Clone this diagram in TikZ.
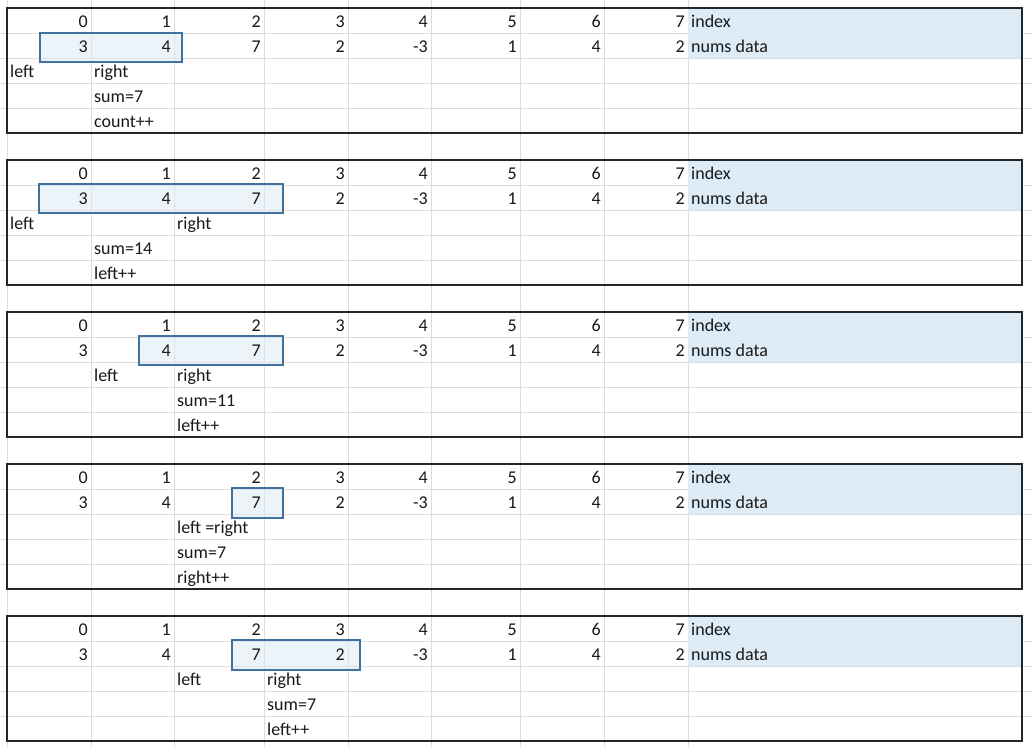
\documentclass[tikz,border=0pt]{standalone}
\usepackage{fontspec}
\setmainfont{Carlito}
\definecolor{gridgray}{HTML}{DCDCDC}
\definecolor{headblue}{HTML}{DDEBF7}
\definecolor{selblue}{HTML}{41719C}
\definecolor{selfill}{HTML}{DDEBF7}
\definecolor{boxdark}{HTML}{262626}

\begin{document}
\begin{tikzpicture}[x=1pt, y=-1pt,
    cell/.style={inner sep=0pt, text=black!90, font=\fontsize{18}{20}\selectfont},
    num/.style={cell, anchor=base east},
    txt/.style={cell, anchor=base west},
    gridline/.style={gridgray, line width=0.9pt},
    framebox/.style={boxdark, line width=2pt},
    selbox/.style={selblue, line width=1.3pt, fill=selfill, fill opacity=0.55}]

    \useasboundingbox (0,0) rectangle (1032,747);
    \fill[white] (0,0) rectangle (1032,747);

    % Grid
    \foreach \x in {7,91,174,264,348,431,520,604,688}
        \draw[gridline] (\x,0) -- (\x,747);
    \foreach \t in {8,160,312,464,616}
        \foreach \r in {25,50,75,100}
            \draw[gridline] (0,\t+\r) -- (1032,\t+\r);

    % Block 1
    \begin{scope}[shift={(0,8)}]
        \draw[selbox] (40,25) rectangle (182,54);
        \node[txt] (b1left) at (10,69) {left};
        \node[txt] (b1right) at (94,69) {right};
        \node[txt] (b1sum) at (94,94) {sum=7};
        \node[txt] (b1step) at (94,119) {count++};
    \end{scope}

    % Block 2
    \begin{scope}[shift={(0,160)}]
        \draw[selbox] (39,24) rectangle (283,53);
        \node[txt] (b2left) at (10,69) {left};
        \node[txt] (b2right) at (177,69) {right};
        \node[txt] (b2sum) at (94,94) {sum=14};
        \node[txt] (b2step) at (94,119) {left++};
    \end{scope}

    % Block 3
    \begin{scope}[shift={(0,312)}]
        \draw[selbox] (139,24) rectangle (283,53);
        \node[txt] (b3left) at (94,69) {left};
        \node[txt] (b3right) at (177,69) {right};
        \node[txt] (b3sum) at (177,94) {sum=11};
        \node[txt] (b3step) at (177,119) {left++};
    \end{scope}

    % Block 4
    \begin{scope}[shift={(0,464)}]
        \draw[selbox] (232,24) rectangle (283,54);
        \node[txt] (b4left) at (177,69) {left =right};
        \node[txt] (b4sum) at (177,94) {sum=7};
        \node[txt] (b4step) at (177,119) {right++};
    \end{scope}

    % Block 5
    \begin{scope}[shift={(0,616)}]
        \draw[selbox] (232,24) rectangle (360,54);
        \node[txt] (b5left) at (177,69) {left};
        \node[txt] (b5right) at (267,69) {right};
        \node[txt] (b5sum) at (267,94) {sum=7};
        \node[txt] (b5step) at (267,119) {left++};
    \end{scope}

    % Index and data rows, frames
    \foreach \b [count=\k from 0] in {1,...,5} {
        \begin{scope}[shift={(0,8+152*\k)}]
            \fill[headblue] (688,0) rectangle (1022,50);
            \foreach \xr/\v [count=\i from 0] in {91/0,174/1,264/2,348/3,431/4,520/5,604/6,688/7}
                \node[num] (b\b idx\i) at (\xr-3,19) {\v};
            \foreach \xr/\v [count=\i from 0] in {91/3,174/4,264/7,348/2,431/-3,520/1,604/4,688/2}
                \node[num] (b\b dat\i) at (\xr-3,44) {\v};
            \node[txt] (b\b idxlab) at (691,19) {index};
            \node[txt] (b\b datlab) at (691,44) {nums data};
            \draw[framebox] (7,0) rectangle (1022,125);
        \end{scope}
    }
\end{tikzpicture}
\end{document}
